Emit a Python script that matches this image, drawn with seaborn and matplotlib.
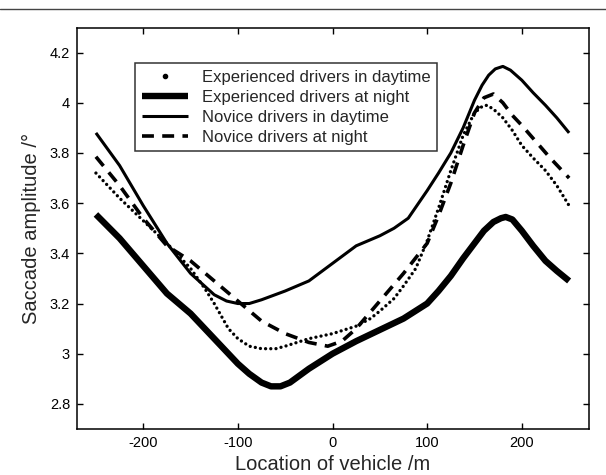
import matplotlib
matplotlib.use("Agg")
import matplotlib.pyplot as plt
from matplotlib.lines import Line2D
import seaborn as sns
import pandas as pd

# ---------------- data ----------------
x_exp_day = [-250, -225, -200, -175, -150, -135, -125, -110, -100, -88, -75, -60, -50, -25, 0, 25, 40, 50, 65,
             75, 88, 100, 112, 125, 138, 150, 158, 163, 170, 180, 190, 200, 212, 225, 237, 250]
y_exp_day = [3.72, 3.62, 3.53, 3.44, 3.34, 3.26, 3.20, 3.10, 3.06, 3.03, 3.02, 3.02, 3.03, 3.06, 3.08, 3.11, 3.14,
             3.17, 3.22, 3.27, 3.34, 3.45, 3.58, 3.73, 3.87, 3.96, 3.985, 3.99, 3.975, 3.94, 3.89, 3.83, 3.78, 3.73, 3.67, 3.59]

x_exp_night = [-250, -225, -200, -175, -150, -125, -100, -88, -75, -65, -55, -45, -25, 0, 25, 50, 75, 100, 112,
               125, 138, 150, 160, 170, 178, 183, 190, 200, 212, 225, 237, 250]
y_exp_night = [3.555, 3.46, 3.35, 3.24, 3.16, 3.06, 2.96, 2.92, 2.885, 2.87, 2.87, 2.885, 2.94, 3.00, 3.05, 3.095,
               3.14, 3.20, 3.25, 3.31, 3.38, 3.44, 3.49, 3.525, 3.54, 3.545, 3.535, 3.49, 3.43, 3.37, 3.33, 3.29]

x_nov_day = [-250, -225, -200, -175, -150, -125, -112, -100, -88, -75, -50, -25, 0, 25, 50, 65, 80, 100, 112, 125,
             138, 150, 158, 165, 172, 180, 188, 200, 212, 225, 237, 250]
y_nov_day = [3.88, 3.75, 3.59, 3.44, 3.32, 3.235, 3.21, 3.20, 3.20, 3.215, 3.25, 3.29, 3.36, 3.43, 3.47, 3.50,
             3.54, 3.65, 3.72, 3.80, 3.90, 4.01, 4.07, 4.11, 4.135, 4.145, 4.13, 4.09, 4.04, 3.99, 3.94, 3.88]

x_nov_night = [-250, -225, -200, -175, -150, -125, -100, -75, -50, -25, -5, 10, 25, 50, 75, 100, 112, 125, 138,
               150, 160, 170, 180, 190, 200, 215, 230, 250]
y_nov_night = [3.785, 3.67, 3.54, 3.43, 3.37, 3.29, 3.21, 3.13, 3.08, 3.045, 3.03, 3.05, 3.10, 3.21, 3.32, 3.44,
               3.55, 3.68, 3.83, 3.96, 4.02, 4.035, 4.00, 3.95, 3.91, 3.845, 3.78, 3.70]

labels = ["Experienced drivers in daytime", "Experienced drivers at night",
          "Novice drivers in daytime", "Novice drivers at night"]
x_ticks = [-200, -100, 0, 100, 200]
y_ticks = [2.8, 3.0, 3.2, 3.4, 3.6, 3.8, 4.0, 4.2]
y_tick_labels = ["2.8", "3", "3.2", "3.4", "3.6", "3.8", "4", "4.2"]

# ---------------- style ----------------
sns.set_style("ticks")
plt.rcParams["font.family"] = ["Liberation Sans", "DejaVu Sans"]
plt.rcParams["axes.unicode_minus"] = False

fig = plt.figure(figsize=(6.06, 4.75), dpi=100)
ax = fig.add_axes([77 / 606, 1 - 429 / 475, 512 / 606, 401.5 / 475])

df_ed = pd.DataFrame({"x": x_exp_day, "y": y_exp_day})
df_en = pd.DataFrame({"x": x_exp_night, "y": y_exp_night})
df_nd = pd.DataFrame({"x": x_nov_day, "y": y_nov_day})
df_nn = pd.DataFrame({"x": x_nov_night, "y": y_nov_night})

sns.lineplot(data=df_en, x="x", y="y", ax=ax, color="black", lw=4.6, sort=False,
             solid_capstyle="butt", solid_joinstyle="round")
sns.lineplot(data=df_nd, x="x", y="y", ax=ax, color="black", lw=2.2, sort=False,
             solid_capstyle="butt", solid_joinstyle="round")
ln_nn = sns.lineplot(data=df_nn, x="x", y="y", ax=ax, color="black", lw=2.6, sort=False).lines[-1]
ln_nn.set_dashes((3.3, 2.3))
ln_ed = sns.lineplot(data=df_ed, x="x", y="y", ax=ax, color="black", lw=2.4, sort=False).lines[-1]
ln_ed.set_dashes((0.01, 1.55))
ln_ed.set_dash_capstyle("round")

ax.set_xlim(-270, 271)
ax.set_ylim(2.7, 4.3)
ax.set_xticks(x_ticks)
ax.set_xticklabels([str(t) for t in x_ticks])
ax.set_yticks(y_ticks)
ax.set_yticklabels(y_tick_labels)
ax.tick_params(direction="in", length=4, width=1, top=True, right=True,
               labelsize=10.5, colors="black", pad=5)
for s in ax.spines.values():
    s.set_linewidth(1.1)
    s.set_color("black")
ax.set_xlabel("Location of vehicle /m", fontsize=14.5, labelpad=4)
ax.set_ylabel("Saccade amplitude /°", fontsize=14.5, labelpad=6)

handles = [
    Line2D([], [], color="black", marker=".", markersize=6, linestyle="none"),
    Line2D([], [], color="black", lw=4.6, solid_capstyle="butt"),
    Line2D([], [], color="black", lw=2.2, solid_capstyle="butt"),
    Line2D([], [], color="black", lw=2.6, dashes=(3.3, 2.3)),
]
leg = ax.legend(handles, labels, loc="upper left", bbox_to_anchor=((135 - 77) / 512, (429 - 63) / 401.5),
                borderaxespad=0, fontsize=12, frameon=True, fancybox=False, edgecolor="black",
                handlelength=2.8, handletextpad=0.8, labelspacing=0.3, borderpad=0.4)
leg.get_frame().set_linewidth(1.1)

fig.add_artist(Line2D([0, 1], [1 - 9 / 475, 1 - 9 / 475], transform=fig.transFigure,
                      color="#444444", lw=1.0))

fig.savefig("out.png", dpi=100)
